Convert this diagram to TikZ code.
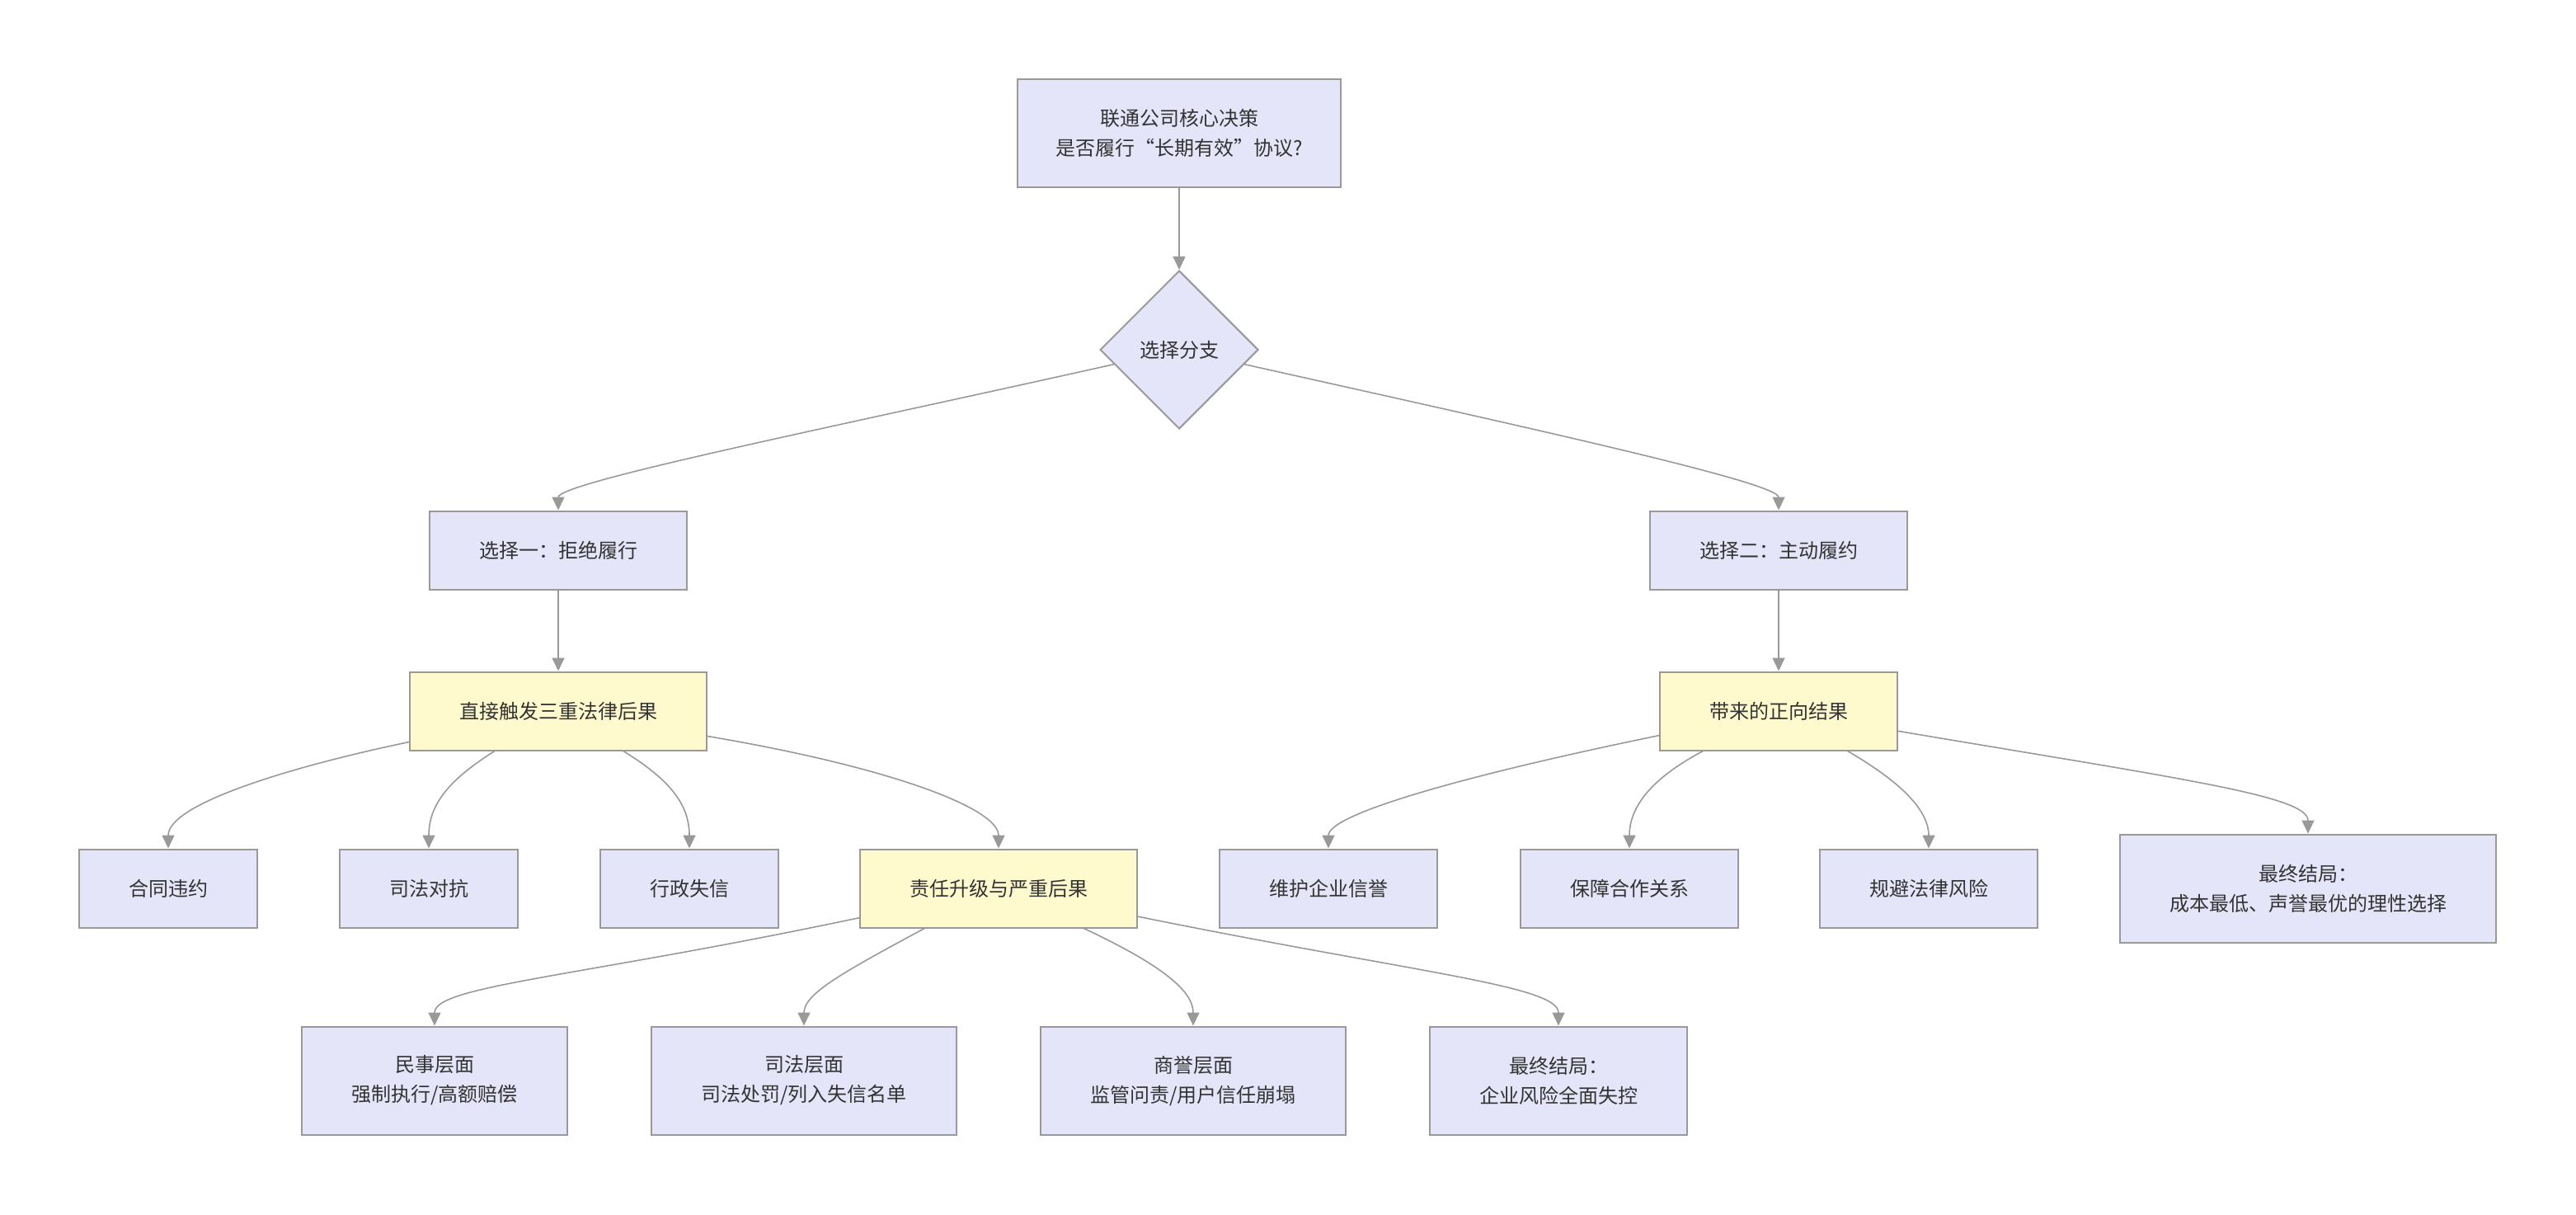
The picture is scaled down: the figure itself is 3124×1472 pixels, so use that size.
\documentclass[tikz,border=0pt]{standalone}
\usepackage{fontspec}
\newfontfamily\cjk{Noto Sans CJK SC}
\usetikzlibrary{arrows.meta, shapes.geometric}
\definecolor{nodefill}{RGB}{229,229,249}
\definecolor{hotfill}{RGB}{255,249,206}
\definecolor{edgegray}{RGB}{153,153,153}
\definecolor{textgray}{RGB}{51,51,51}

\begin{document}
\begin{tikzpicture}[x=0.5pt, y=-0.5pt,
    box/.style={draw=edgegray, fill=nodefill, line width=1pt, inner xsep=30pt, inner ysep=0pt,
        minimum height=47.5pt, align=center, text=textgray, font=\cjk\fontsize{12}{18}\selectfont},
    hot/.style={box, fill=hotfill},
    tall/.style={box, minimum height=65.5pt},
    dec/.style={box, diamond, inner xsep=0pt, minimum width=96pt, minimum height=96pt},
    link/.style={draw=edgegray, line width=0.8pt, -{Triangle[length=8pt, width=7.5pt, fill=edgegray]}}]
    \useasboundingbox (0,0) rectangle (3124,1472);

    % top of the tree
    \node[tall, inner xsep=23pt] (top) at (1430,161) {联通公司核心决策\\是否履行“长期有效”协议?};
    \node[dec] (dia) at (1430,424) {选择分支};

    % the two choices
    \node[box] (refuse) at (677,667) {选择一：拒绝履行};
    \node[box] (comply) at (2157,667) {选择二：主动履约};
    \node[hot] (legal) at (677,862) {直接触发三重法律后果};
    \node[hot] (good) at (2157,862) {带来的正向结果};

    % third row
    \node[box] (breach) at (204,1077) {合同违约};
    \node[box] (court) at (520,1077) {司法对抗};
    \node[box] (admin) at (836,1077) {行政失信};
    \node[hot] (worse) at (1211,1077) {责任升级与严重后果};
    \node[box] (credit) at (1611,1077) {维护企业信誉};
    \node[box] (partner) at (1976,1077) {保障合作关系};
    \node[box] (norisk) at (2339,1077) {规避法律风险};
    \node[tall] (endgood) at (2799,1077) {最终结局：\\成本最低、声誉最优的理性选择};

    % fourth row
    \node[tall] (civil) at (527,1310) {民事层面\\强制执行/高额赔偿};
    \node[tall] (judic) at (975,1310) {司法层面\\司法处罚/列入失信名单};
    \node[tall] (brand) at (1447,1310) {商誉层面\\监管问责/用户信任崩塌};
    \node[tall] (endbad) at (1890,1310) {最终结局：\\企业风险全面失控};

    \draw[link] (top) -- (dia);
    \draw[link] (dia) .. controls (1000,520) and (677,585) .. (refuse);
    \draw[link] (dia) .. controls (1860,520) and (2157,585) .. (comply);
    \draw[link] (refuse) -- (legal);
    \draw[link] (comply) -- (good);

    \draw[link] (legal) .. controls (350,930) and (204,975) .. (breach);
    \draw[link] (legal) .. controls (545,945) and (520,975) .. (court);
    \draw[link] (legal) .. controls (812,945) and (836,975) .. (admin);
    \draw[link] (legal) .. controls (1080,930) and (1211,980) .. (worse);

    \draw[link] (good) .. controls (1800,935) and (1611,985) .. (credit);
    \draw[link] (good) .. controls (2000,945) and (1976,980) .. (partner);
    \draw[link] (good) .. controls (2300,945) and (2339,980) .. (norisk);
    \draw[link] (good) .. controls (2650,945) and (2799,965) .. (endgood);

    \draw[link] (worse) .. controls (700,1185) and (527,1195) .. (civil);
    \draw[link] (worse) .. controls (1020,1180) and (975,1205) .. (judic);
    \draw[link] (worse) .. controls (1420,1175) and (1447,1205) .. (brand);
    \draw[link] (worse) .. controls (1720,1180) and (1890,1195) .. (endbad);
\end{tikzpicture}
\end{document}
